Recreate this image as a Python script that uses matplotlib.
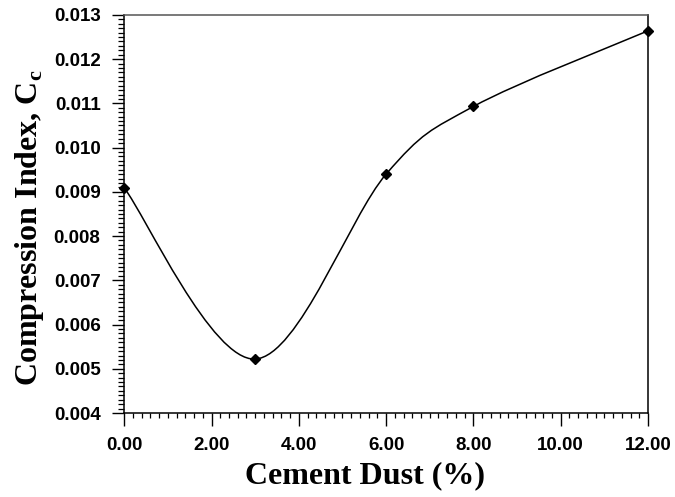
import numpy as np
import matplotlib
matplotlib.use("Agg")
import matplotlib.pyplot as plt
from matplotlib.path import Path
from matplotlib.patches import PathPatch
from matplotlib.ticker import MultipleLocator, FormatStrFormatter

# cement dust content (%) and measured compression index
cement_dust = [0.0, 3.0, 6.0, 8.0, 12.0]
cc_values = [0.00909, 0.00522, 0.00940, 0.01093, 0.01264]


def smooth_path(x, y):
    # Catmull-Rom style smoothing written as cubic Bezier segments
    pts = np.column_stack([x, y])
    padded = np.vstack([pts[0], pts, pts[-1]])
    verts = [pts[0]]
    codes = [Path.MOVETO]
    for i in range(len(pts) - 1):
        p0, p1, p2, p3 = padded[i], padded[i + 1], padded[i + 2], padded[i + 3]
        verts += [p1 + (p2 - p0) / 6.0, p2 - (p3 - p1) / 6.0, p2]
        codes += [Path.CURVE4] * 3
    return Path(verts, codes)


fig = plt.figure(figsize=(6.75, 4.97), dpi=100)
ax = fig.add_axes([0.184, 0.169, 0.776, 0.801])

ax.add_patch(PathPatch(smooth_path(cement_dust, cc_values), facecolor="none",
                       edgecolor="black", lw=1.1))
ax.plot(cement_dust, cc_values, ls="none", marker="D", ms=5.5, color="black",
        clip_on=False, zorder=5)

ax.set_xlim(0, 12)
ax.set_ylim(0.004, 0.013)
ax.xaxis.set_major_locator(MultipleLocator(2))
ax.xaxis.set_minor_locator(MultipleLocator(0.2))
ax.yaxis.set_major_locator(MultipleLocator(0.001))
ax.yaxis.set_minor_locator(MultipleLocator(0.0001))
ax.xaxis.set_major_formatter(FormatStrFormatter("%.2f"))
ax.yaxis.set_major_formatter(FormatStrFormatter("%.3f"))

ax.tick_params(which="major", direction="out", length=9, width=1.0,
               top=False, right=False, pad=8)
ax.tick_params(which="minor", direction="out", length=3.5, width=0.9,
               top=False, right=False)
ax.tick_params(axis="y", which="minor", length=4.3)
for lab in ax.get_xticklabels() + ax.get_yticklabels():
    lab.set_fontfamily("Liberation Sans")
    lab.set_fontweight("bold")
    lab.set_fontsize(13.5)

for side in ["left", "bottom", "right"]:
    ax.spines[side].set_linewidth(1.1)
ax.spines["top"].set_color("#555555")
ax.spines["top"].set_linewidth(1.1)

ax.set_xlabel("Cement Dust (%)", fontfamily="Liberation Serif",
              fontweight="bold", fontsize=23)
ax.set_ylabel("Compression Index, C$_\\mathregular{c}$",
              fontfamily="Liberation Serif", fontweight="bold", fontsize=23)
ax.xaxis.set_label_coords(0.46, -0.122)
ax.yaxis.set_label_coords(-0.15, 0.466)

fig.savefig("out.png", dpi=100)
